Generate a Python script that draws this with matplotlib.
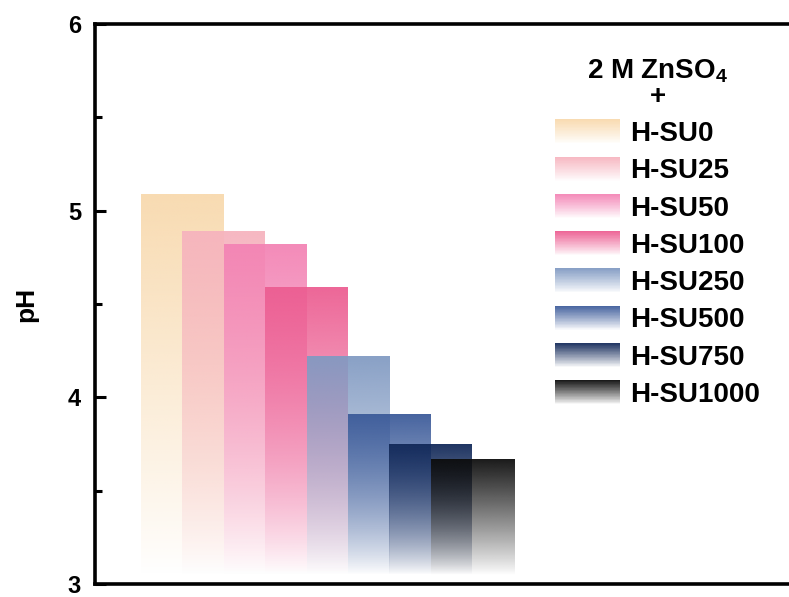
import numpy as np
import matplotlib
matplotlib.use("Agg")
import matplotlib.pyplot as plt
from matplotlib.patches import Patch, Rectangle
from matplotlib.legend_handler import HandlerBase
from matplotlib.colors import to_rgb

plt.rcParams['font.family'] = ['Liberation Sans', 'DejaVu Sans']
plt.rcParams['font.weight'] = 'bold'
plt.rcParams['mathtext.fontset'] = 'custom'
plt.rcParams['mathtext.rm'] = 'Liberation Sans:bold'
plt.rcParams['mathtext.bf'] = 'Liberation Sans:bold'

# ---- data ----
samples = ["H-SU0", "H-SU25", "H-SU50", "H-SU100", "H-SU250", "H-SU500", "H-SU750", "H-SU1000"]
ph_values = [5.09, 4.89, 4.82, 4.59, 4.22, 3.91, 3.75, 3.67]
colors = ["#F8D9AD", "#F6B3BE", "#F383B4", "#EC5D91", "#819AC2", "#3B5A99", "#112858", "#0C0C0C"]
positions = [1, 2, 3, 4, 5, 6, 7, 8]
yticks = [3, 4, 5, 6]

bar_width = 2.0
alpha_top = 0.94
grad_bottom = 3.05

fig = plt.figure(figsize=(7.89, 5.97), dpi=100)
ax = fig.add_axes([95/789, 1-584/597, 720/789, (584-24)/597])

xmin = 1 - 87/41.5
xmax = xmin + 720/41.5

for x, v, c in zip(positions, ph_values, colors):
    rgb = np.array(to_rgb(c))
    n = 256
    img = np.zeros((n, 1, 4))
    img[:, 0, :3] = rgb
    t = np.linspace(1.0, 0.0, n)  # 1 at top, 0 at bottom
    img[:, 0, 3] = alpha_top * t ** 0.9
    ax.imshow(img, extent=[x - bar_width/2, x + bar_width/2, grad_bottom, v],
              aspect='auto', origin='upper', interpolation='bilinear', zorder=2)

ax.set_xlim(xmin, xmax)
ax.set_ylim(3, 6)
ax.set_xticks([])
ax.set_yticks(yticks)
ax.set_yticks([3.5, 4.5, 5.5], minor=True)
ax.tick_params(axis='y', which='major', direction='in', length=8, width=2.2, labelsize=17, pad=10)
ax.tick_params(axis='y', which='minor', direction='in', length=5, width=2.2)
for s in ax.spines.values():
    s.set_linewidth(2.6)
ax.spines['right'].set_visible(False)
ax.set_ylabel("pH", fontsize=19, fontweight='bold', labelpad=21)


class GradHandler(HandlerBase):
    def create_artists(self, legend, orig_handle, xdescent, ydescent, width, height, fontsize, trans):
        rgb = np.array(orig_handle.get_facecolor()[:3])
        n = 40
        arts = []
        for i in range(n):
            y0 = -ydescent + height * (1 - (i + 1) / n)
            a = alpha_top * (1 - i / n) ** 0.9
            col = rgb * a + (1 - a)
            arts.append(Rectangle((-xdescent, y0), width, height / n * 1.3,
                                  facecolor=col, edgecolor='none',
                                  transform=trans, zorder=2 + i))
        return arts


handles = [Patch(facecolor=c) for c in colors]
leg = ax.legend(handles, samples, handler_map={Patch: GradHandler()},
                loc='upper left', bbox_to_anchor=(555/789, 1 - 57/597),
                bbox_transform=fig.transFigure, frameon=False,
                prop={'size': 20, 'weight': 'bold'},
                handlelength=2.35, handleheight=0.95, labelspacing=0.35,
                handletextpad=0.36, borderpad=0.0, borderaxespad=0.0,
                title="2 M ZnSO$_\\mathbf{4}$\n+",
                title_fontproperties={'size': 20, 'weight': 'bold'})
leg.get_title().set_multialignment('center')
leg.get_title().set_linespacing(0.95)

fig.savefig("out.png", dpi=100)
